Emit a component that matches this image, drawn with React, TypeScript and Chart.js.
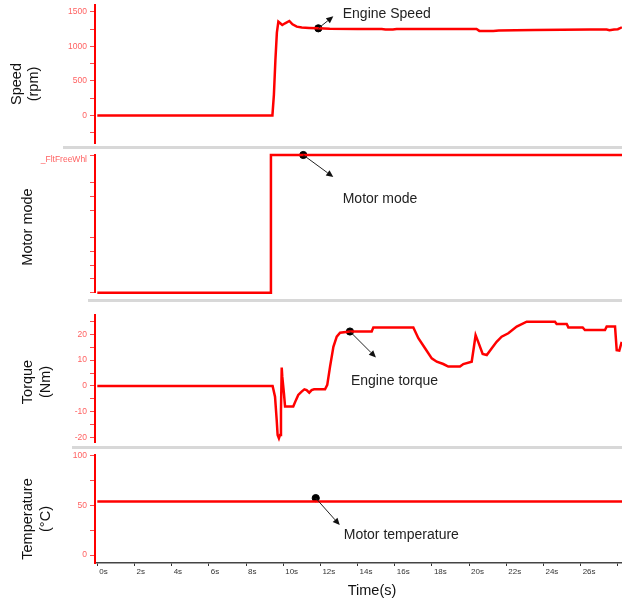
import React, { useEffect, useRef } from 'react';
import { Chart, registerables } from 'chart.js';

Chart.register(...registerables);

// ---------- data ----------
const X_MIN = -0.124;
const X_MAX = 28.225;
const xTicks = [0, 2, 4, 6, 8, 10, 12, 14, 16, 18, 20, 22, 24, 26, 28];
const xTickLabels = ['0s', '2s', '4s', '6s', '8s', '10s', '12s', '14s', '16s', '18s', '20s', '22s', '24s', '26s', ''];

const speedTime = [0, 9.42, 9.5, 9.58, 9.66, 9.74, 9.84, 9.95, 10.1, 10.33, 10.5, 10.73, 11.0, 11.4, 11.89, 12.5, 14, 15.3, 15.5, 15.9, 16.1, 17, 18, 20.4, 20.55, 21.3, 21.6, 22.5, 23.5, 25, 26.5, 27.4, 27.55, 27.8, 28.0, 28.22];
const speedRpm = [0, 0, 300, 800, 1200, 1358, 1335, 1310, 1335, 1368, 1320, 1286, 1275, 1268, 1262, 1255, 1252, 1252, 1245, 1245, 1252, 1252, 1252, 1252, 1225, 1225, 1232, 1235, 1238, 1240, 1245, 1245, 1235, 1245, 1250, 1277];
const speedTicks = [-250, 0, 250, 500, 750, 1000, 1250, 1500];
const speedTickLabels = ['', '0', '', '500', '', '1000', '', '1500'];

const modeTime = [0, 9.33, 9.34, 28.225];
const modeValue = [0, 0, 1, 1];
const modeTicks = [0, 0.1, 0.2, 0.3, 0.4, 0.6, 0.7, 0.8, 1];
const modeTickLabels = ['', '', '', '', '', '', '', '', '_FltFreeWhl'];

const torqueTime = [0, 9.43, 9.56, 9.65, 9.70, 9.77, 9.83, 9.88, 9.92, 9.95, 10.04, 10.1, 10.54, 10.69, 10.81, 10.99, 11.14, 11.26, 11.4, 11.53, 11.66, 12.25, 12.37, 12.52, 12.7, 12.88, 13.06, 13.59, 14.76, 14.85, 17.0, 17.27, 17.63, 17.99, 18.26, 18.61, 18.88, 19.51, 19.69, 20.14, 20.26, 20.35, 20.49, 20.73, 20.95, 21.22, 21.48, 21.75, 22.11, 22.56, 23.1, 24.62, 24.71, 25.25, 25.34, 26.11, 26.23, 27.31, 27.4, 27.85, 27.94, 28.08, 28.21];
const torqueNm = [0, 0, -4.2, -13.2, -19, -20.3, -19, -9.3, 7.1, 3.6, -2.9, -8, -8, -5.4, -3.5, -2.2, -1.3, -1.6, -2.6, -1.6, -1.3, -1.3, 0.4, 7.5, 15.2, 19.1, 20.6, 21.1, 21.1, 22.7, 22.7, 18.5, 14.6, 10.7, 9.4, 8.5, 7.5, 7.5, 8.5, 9.4, 15.2, 19.7, 17.1, 12.4, 12.0, 14.6, 17.1, 19.1, 20.4, 23.0, 24.9, 24.9, 24.0, 24.0, 22.7, 22.7, 21.7, 21.7, 23.0, 23.0, 13.9, 13.7, 17.1];
const torqueTicks = [-20, -15, -10, -5, 0, 5, 10, 15, 20, 25];
const torqueTickLabels = ['-20', '', '-10', '', '0', '', '10', '', '20', ''];

const tempTime = [0, 28.225];
const tempC = [54, 54];
const tempTicks = [0, 25, 50, 75, 100];
const tempTickLabels = ['0', '', '50', '', '100'];

// annotation markers (time, value)
const speedMarker = [11.89, 1262];
const modeMarker = [11.08, 1];
const torqueMarker = [13.59, 21.1];
const tempMarker = [11.75, 57.5];

const FONT = 'Arial, "Liberation Sans", sans-serif';
const RED = '#ff0000';

type Panel = {
  top: number;
  height: number;
  padTop: number;
  padBottom: number;
  showX: boolean;
  yMin: number;
  yMax: number;
  yTicks: number[];
  yLabels: string[];
  labelOffset: number;
  time: number[];
  values: number[];
  marker: number[];
  titles: { text: string; x: number; y: number; rotate: boolean }[];
  note: { text: string; arrow: [number, number]; offset: [number, number] };
};

const panels: Panel[] = [
  {
    top: 0, height: 146, padTop: 5, padBottom: 3, showX: false,
    yMin: -400, yMax: 1600, yTicks: speedTicks, yLabels: speedTickLabels, labelOffset: 0,
    time: speedTime, values: speedRpm, marker: speedMarker,
    titles: [
      { text: 'Speed', x: 17, y: 84, rotate: true },
      { text: '(rpm)', x: 34, y: 84, rotate: true },
    ],
    note: { text: 'Engine Speed', arrow: [15, -12], offset: [24.4, -14.3] },
  },
  {
    top: 150, height: 150, padTop: 5, padBottom: 7.3, showX: false,
    yMin: 0, yMax: 1, yTicks: modeTicks, yLabels: modeTickLabels, labelOffset: 5,
    time: modeTime, values: modeValue, marker: modeMarker,
    titles: [{ text: 'Motor mode', x: 28, y: 227, rotate: true }],
    note: { text: 'Motor mode', arrow: [30, 22], offset: [39.4, 44] },
  },
  {
    top: 301, height: 145, padTop: 14, padBottom: 3.3, showX: false,
    yMin: -22, yMax: 27.5, yTicks: torqueTicks, yLabels: torqueTickLabels, labelOffset: 0,
    time: torqueTime, values: torqueNm, marker: torqueMarker,
    titles: [
      { text: 'Torque', x: 28, y: 382, rotate: true },
      { text: '(Nm)', x: 46, y: 382, rotate: true },
    ],
    note: { text: 'Engine torque', arrow: [26, 26], offset: [1, 50] },
  },
  {
    top: 449, height: 151, padTop: 6, padBottom: 0, showX: true,
    yMin: -8, yMax: 101, yTicks: tempTicks, yLabels: tempTickLabels, labelOffset: 0,
    time: tempTime, values: tempC, marker: tempMarker,
    titles: [
      { text: 'Temperature', x: 28, y: 519, rotate: true },
      { text: '(°C)', x: 46, y: 519, rotate: true },
      { text: 'Time(s)', x: 372, y: 591, rotate: false },
    ],
    note: { text: 'Motor temperature', arrow: [24, 27], offset: [28, 37] },
  },
];

const decorPlugin = {
  id: 'panelDecor',
  afterDraw(chart: any, _args: any, opts: any) {
    const p: Panel = opts.panel;
    const ctx = chart.ctx as CanvasRenderingContext2D;
    ctx.save();
    // axis titles
    ctx.fillStyle = '#111';
    ctx.font = `14.5px ${FONT}`;
    ctx.textAlign = 'center';
    ctx.textBaseline = 'middle';
    p.titles.forEach((t) => {
      ctx.save();
      ctx.translate(t.x, t.y - p.top);
      if (t.rotate) ctx.rotate(-Math.PI / 2);
      ctx.fillText(t.text, 0, 0);
      ctx.restore();
    });
    // annotation arrow and text
    const pt = chart.getDatasetMeta(1).data[0];
    if (pt) {
      const x0 = pt.x, y0 = pt.y;
      const x1 = x0 + p.note.arrow[0], y1 = y0 + p.note.arrow[1];
      const ang = Math.atan2(y1 - y0, x1 - x0);
      const head = 7, half = 3.2;
      const bx = x1 - head * Math.cos(ang), by = y1 - head * Math.sin(ang);
      ctx.strokeStyle = '#222';
      ctx.fillStyle = '#111';
      ctx.lineWidth = 1;
      ctx.beginPath();
      ctx.moveTo(x0, y0);
      ctx.lineTo(bx, by);
      ctx.stroke();
      ctx.beginPath();
      ctx.moveTo(x1, y1);
      ctx.lineTo(bx + half * Math.sin(ang), by - half * Math.cos(ang));
      ctx.lineTo(bx - half * Math.sin(ang), by + half * Math.cos(ang));
      ctx.closePath();
      ctx.fill();
      ctx.fillStyle = '#222';
      ctx.font = `14px ${FONT}`;
      ctx.textAlign = 'left';
      ctx.textBaseline = 'middle';
      ctx.fillText(p.note.text, x0 + p.note.offset[0], y0 + p.note.offset[1]);
    }
    ctx.restore();
  },
};

function zeroPad(s: any) {
  s.paddingLeft = 0;
  s.paddingRight = 0;
  s.paddingTop = 0;
  s.paddingBottom = 0;
}

function PanelChart({ panel }: { panel: Panel }) {
  const ref = useRef<HTMLCanvasElement | null>(null);
  useEffect(() => {
    if (!ref.current) return;
    const p = panel;
    const chart = new Chart(ref.current, {
      type: 'line',
      data: {
        datasets: [
          {
            data: p.time.map((t, i) => ({ x: t, y: p.values[i] })),
            borderColor: RED,
            borderWidth: 2.5,
            pointRadius: 0,
            tension: 0,
            clip: false,
          } as any,
          {
            data: [{ x: p.marker[0], y: p.marker[1] }],
            showLine: false,
            pointRadius: 3.6,
            pointBackgroundColor: '#000',
            pointBorderColor: '#000',
            clip: false,
          } as any,
        ],
      },
      options: {
        responsive: false,
        animation: false,
        devicePixelRatio: 1,
        layout: { autoPadding: false, padding: { top: p.padTop, bottom: p.padBottom, left: 0, right: 0 } },
        plugins: {
          legend: { display: false },
          tooltip: { enabled: false },
          panelDecor: { panel: p },
        } as any,
        scales: {
          x: {
            type: 'linear',
            min: X_MIN,
            max: X_MAX,
            display: p.showX,
            afterBuildTicks: (s: any) => { s.ticks = xTicks.map((v) => ({ value: v })); },
            afterFit: (s: any) => { s.height = p.showX ? 37 : 0; zeroPad(s); },
            grid: { drawOnChartArea: false, drawTicks: true, tickLength: 3, color: '#333', lineWidth: 1 },
            border: { display: true, color: '#444', width: 1.5 },
            ticks: {
              align: 'start',
              labelOffset: 2,
              padding: 1,
              color: '#333',
              font: { size: 8, family: FONT },
              maxRotation: 0,
              autoSkip: false,
              callback: (_v: any, i: number) => xTickLabels[i],
            },
          } as any,
          y: {
            type: 'linear',
            min: p.yMin,
            max: p.yMax,
            afterBuildTicks: (s: any) => { s.ticks = p.yTicks.map((v) => ({ value: v })); },
            afterFit: (s: any) => { s.width = 95; zeroPad(s); },
            grid: { drawOnChartArea: false, drawTicks: true, tickLength: 5, color: '#ff4a4a', lineWidth: 1 },
            border: { display: true, color: RED, width: 2 },
            ticks: {
              color: '#ff6262',
              font: { size: 8.5, family: FONT },
              padding: 3,
              autoSkip: false,
              labelOffset: p.labelOffset,
              callback: (_v: any, i: number) => p.yLabels[i],
            },
          } as any,
        },
      },
      plugins: [decorPlugin],
    });
    return () => chart.destroy();
  }, [panel]);
  return (
    <canvas
      ref={ref}
      width={622}
      height={panel.height}
      style={{ position: 'absolute', left: 0, top: panel.top, width: 622, height: panel.height }}
    />
  );
}

const separators = [
  { top: 146, left: 63, height: 3 },
  { top: 299, left: 88, height: 2.5 },
  { top: 446, left: 72, height: 3 },
];

export default function App() {
  return (
    <div style={{ position: 'absolute', left: 0, top: 0, width: 622, height: 600, background: '#fff', overflow: 'hidden' }}>
      {separators.map((s, i) => (
        <div
          key={i}
          style={{ position: 'absolute', top: s.top, left: s.left, width: 622 - s.left, height: s.height, background: '#d8d8d8' }}
        />
      ))}
      {panels.map((p, i) => (
        <PanelChart key={i} panel={p} />
      ))}
    </div>
  );
}
